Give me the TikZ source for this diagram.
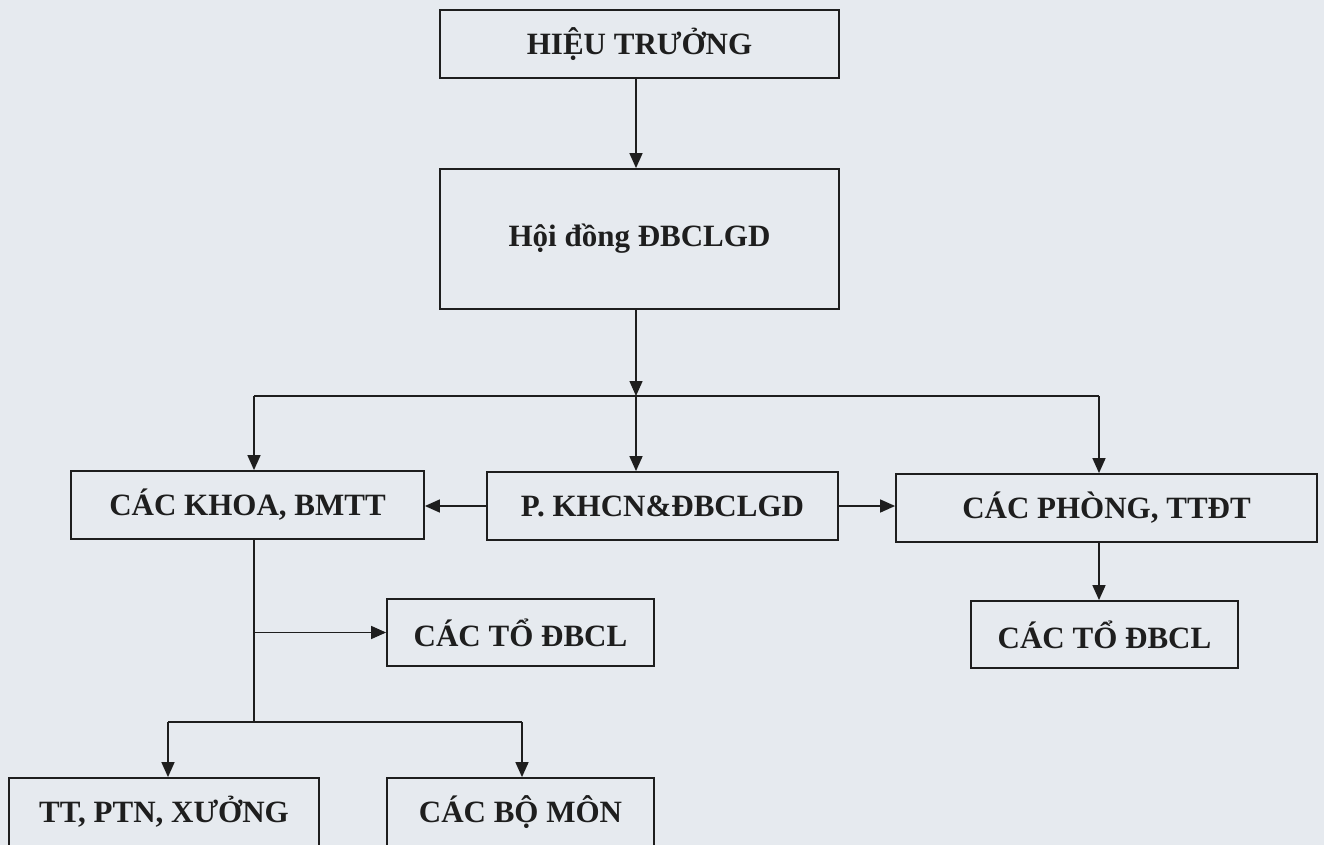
\documentclass[tikz,border=0pt]{standalone}
\usepackage{fontspec}
\setmainfont{Liberation Serif}
\usetikzlibrary{arrows.meta,calc}
\definecolor{paper}{HTML}{E6EAEF}
\definecolor{ink}{HTML}{1E1E1E}
\begin{document}
\begin{tikzpicture}[x=1pt,y=-1pt,
  box/.style={draw=ink,line width=1.8pt,rectangle,inner sep=0pt,
    font=\fontsize{31}{36}\selectfont\bfseries,text=ink},
  conn/.style={draw=ink,line width=1.5pt},
  arr/.style={conn,-{Triangle[length=15pt,width=13pt]}}]
\fill[paper] (0,0) rectangle (1324,845);
\useasboundingbox (0,0) rectangle (1324,845);
% nodes
\node[box,minimum width=399pt,minimum height=68pt] (ht) at (639.5,44) {HIỆU TRƯỞNG};
\node[box,minimum width=399pt,minimum height=140pt] (hd) at (639.5,239) {Hội đồng ĐBCLGD};
\node[box,minimum width=353pt,minimum height=68pt] (khoa) at (247.5,505) {CÁC KHOA, BMTT};
\node[box,minimum width=351pt,minimum height=68pt] (pk) at (662.5,506) {P. KHCN\&ĐBCLGD};
\node[box,minimum width=421pt,minimum height=68pt] (ph) at (1106.5,508) {CÁC PHÒNG, TTĐT};
\node[box,minimum width=267pt,minimum height=67pt] (to1) at (520.5,632.5) {CÁC TỔ ĐBCL};
\node[box,minimum width=267pt,minimum height=67pt] (to2) at (1104.5,634.5) {CÁC TỔ ĐBCL};
\node[box,minimum width=310pt,minimum height=68pt] (tt) at (164,812) {TT, PTN, XƯỞNG};
\node[box,minimum width=267pt,minimum height=68pt] (bm) at (520.5,812) {CÁC BỘ MÔN};
% junction coordinates
\coordinate (bus) at (636,396);
\coordinate (bL) at (254,396);
\coordinate (bR) at (1099,396);
\coordinate (kJ) at (254,722);
\coordinate (brL) at (168,722);
\coordinate (brR) at (522,722);
% connectors
\draw[arr] (ht.south -| bus) -- (hd.north -| bus);
\draw[arr] (hd.south -| bus) -- (bus);
\draw[conn] (bL) -- (bR);
\draw[arr] (bL) -- (bL |- khoa.north);
\draw[arr] (bus) -- (bus |- pk.north);
\draw[arr] (bR) -- (bR |- ph.north);
\draw[arr] (pk.west) -- (pk.west -| khoa.east);
\draw[arr] (pk.east) -- (pk.east -| ph.west);
\draw[arr] (bR |- ph.south) -- (bR |- to2.north);
\draw[conn] (bL |- khoa.south) -- (kJ);
\draw[arr] (kJ |- to1.west) -- (to1.west);
\draw[conn] (brL) -- (brR);
\draw[arr] (brL) -- (brL |- tt.north);
\draw[arr] (brR) -- (brR |- bm.north);
\end{tikzpicture}
\end{document}
